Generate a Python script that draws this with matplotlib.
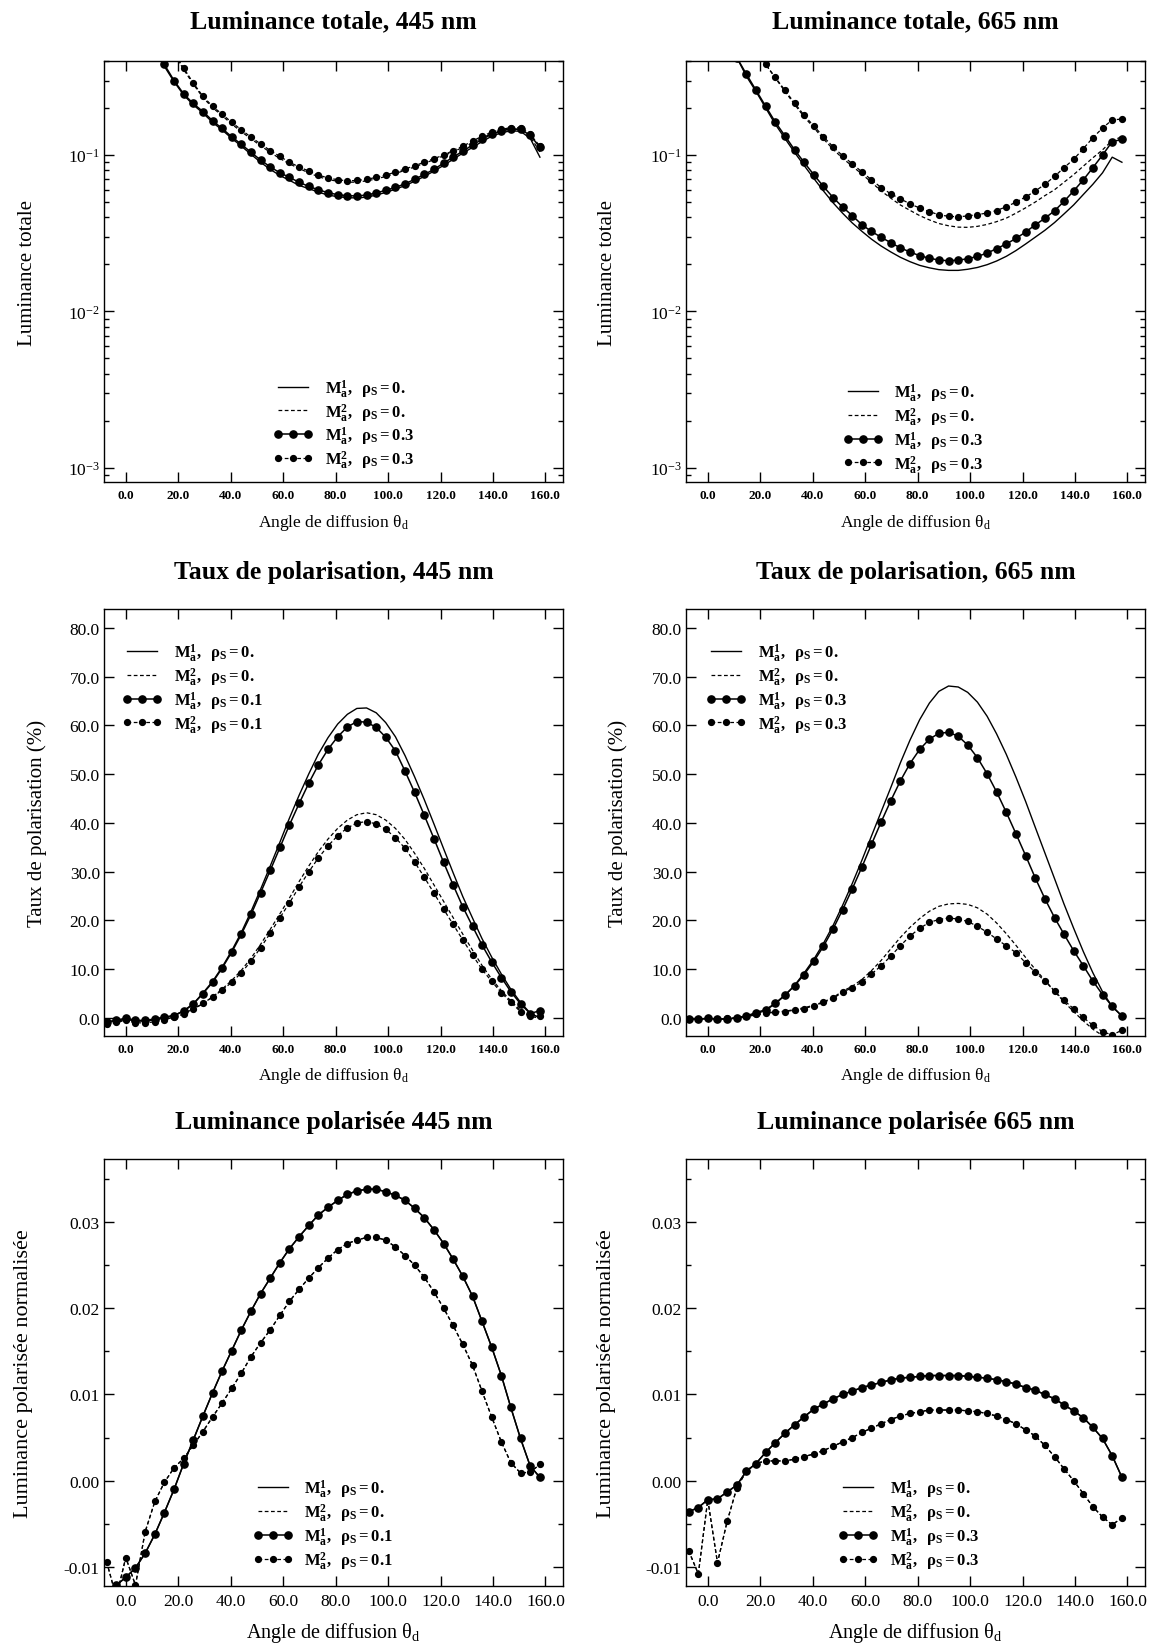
import matplotlib
matplotlib.use("Agg")
import matplotlib.pyplot as plt
from matplotlib.ticker import FormatStrFormatter, LogLocator, MultipleLocator, NullFormatter

plt.rcParams["font.family"] = ["Liberation Serif", "DejaVu Serif"]
plt.rcParams["mathtext.fontset"] = "custom"
plt.rcParams["mathtext.rm"] = "Liberation Serif"
plt.rcParams["mathtext.it"] = "Liberation Serif:italic"
plt.rcParams["mathtext.bf"] = "Liberation Serif:bold"
plt.rcParams["axes.unicode_minus"] = False

# Scattering angles (deg) shared by every curve
angle = [-7.3, -3.6, 0.0, 3.7, 7.4, 11.1, 14.7, 18.4, 22.1, 25.7, 29.4, 33.1, 36.7, 40.4,
         44.1, 47.8, 51.4, 55.1, 58.8, 62.4, 66.1, 69.8, 73.4, 77.1, 80.8, 84.5, 88.1, 91.8,
         95.5, 99.1, 102.8, 106.5, 110.1, 113.8, 117.5, 121.2, 124.8, 128.5, 132.2, 135.8,
         139.5, 143.2, 146.8, 150.5, 154.2, 157.9]

# Luminance totale, 445 nm
lum445_m1_r0 = [2.1, 1.5, 1.07, 0.80, 0.60, 0.46, 0.37, 0.295, 0.242, 0.210, 0.186, 0.162, 0.145, 0.128,
                0.114, 0.101, 0.090, 0.081, 0.074, 0.069, 0.064, 0.061, 0.058, 0.0555, 0.0542, 0.0534,
                0.0532, 0.0538, 0.0555, 0.0577, 0.0605, 0.0638, 0.068, 0.073, 0.079, 0.086, 0.094, 0.103,
                0.112, 0.122, 0.132, 0.139, 0.143, 0.142, 0.128, 0.097]
lum445_m2_r0 = [3.9, 2.75, 1.95, 1.42, 1.03, 0.76, 0.57, 0.44, 0.353, 0.285, 0.234, 0.201, 0.179, 0.158,
                0.141, 0.127, 0.115, 0.104, 0.095, 0.088, 0.082, 0.077, 0.0728, 0.0698, 0.0680, 0.0670,
                0.0672, 0.0684, 0.0704, 0.0730, 0.0762, 0.080, 0.084, 0.0885, 0.0935, 0.099, 0.105, 0.112,
                0.120, 0.129, 0.137, 0.143, 0.147, 0.146, 0.131, 0.105]
lum445_m1_r3 = [2.2, 1.55, 1.1, 0.82, 0.62, 0.47, 0.38, 0.30, 0.246, 0.214, 0.19, 0.166, 0.148, 0.131,
                0.117, 0.104, 0.093, 0.084, 0.077, 0.072, 0.067, 0.063, 0.060, 0.0575, 0.0558, 0.0550,
                0.0548, 0.0555, 0.0573, 0.0595, 0.0622, 0.0655, 0.070, 0.0752, 0.081, 0.089, 0.097, 0.106,
                0.116, 0.126, 0.136, 0.143, 0.147, 0.146, 0.134, 0.112]
lum445_m2_r3 = [4.0, 2.8, 2.0, 1.45, 1.05, 0.78, 0.58, 0.45, 0.36, 0.29, 0.238, 0.205, 0.183, 0.162,
                0.145, 0.130, 0.118, 0.107, 0.098, 0.090, 0.084, 0.079, 0.0745, 0.0715, 0.0695, 0.0685,
                0.0688, 0.0700, 0.0720, 0.0745, 0.0778, 0.0815, 0.0855, 0.090, 0.095, 0.100, 0.107, 0.114,
                0.123, 0.132, 0.140, 0.146, 0.150, 0.150, 0.136, 0.114]

# Luminance totale, 665 nm
lum665_m1_r0 = [2.5, 1.6, 1.05, 0.72, 0.54, 0.42, 0.32, 0.255, 0.200, 0.158, 0.128, 0.104, 0.086, 0.071,
                0.059, 0.0495, 0.0425, 0.0368, 0.0325, 0.0290, 0.0262, 0.0240, 0.0222, 0.0208, 0.0197,
                0.0190, 0.0185, 0.0183, 0.0183, 0.0186, 0.0191, 0.0199, 0.0210, 0.0225, 0.0245, 0.0270,
                0.0298, 0.0330, 0.0370, 0.042, 0.048, 0.056, 0.065, 0.077, 0.097, 0.090]
lum665_m2_r0 = [6.0, 3.8, 2.5, 1.7, 1.2, 0.85, 0.62, 0.48, 0.38, 0.312, 0.256, 0.211, 0.176, 0.150,
                0.127, 0.109, 0.0955, 0.085, 0.0755, 0.067, 0.059, 0.053, 0.048, 0.0443, 0.041, 0.0385,
                0.0365, 0.0353, 0.0346, 0.0345, 0.0350, 0.0360, 0.0375, 0.0395, 0.0425, 0.046, 0.050,
                0.055, 0.060, 0.067, 0.075, 0.085, 0.096, 0.108, 0.124, 0.131]
lum665_m1_r3 = [2.5, 1.6, 1.05, 0.72, 0.54, 0.42, 0.33, 0.26, 0.205, 0.163, 0.133, 0.108, 0.090, 0.075,
                0.063, 0.0535, 0.0465, 0.041, 0.0358, 0.0325, 0.0298, 0.0275, 0.0255, 0.0240, 0.0227,
                0.0219, 0.0213, 0.0211, 0.0213, 0.0217, 0.0225, 0.0236, 0.0252, 0.0270, 0.0293, 0.0322,
                0.0357, 0.0394, 0.0440, 0.0505, 0.0590, 0.0695, 0.083, 0.100, 0.122, 0.126]
lum665_m2_r3 = [6.0, 3.8, 2.5, 1.7, 1.2, 0.85, 0.62, 0.48, 0.38, 0.315, 0.26, 0.215, 0.18, 0.154,
                0.131, 0.113, 0.099, 0.088, 0.078, 0.0695, 0.062, 0.0565, 0.0525, 0.0488, 0.0458, 0.0435,
                0.0415, 0.0406, 0.0403, 0.0408, 0.0416, 0.0426, 0.0442, 0.0467, 0.050, 0.054, 0.0588,
                0.065, 0.073, 0.083, 0.094, 0.110, 0.129, 0.149, 0.168, 0.170]

# Taux de polarisation (%), 445 nm
pol445_m1_r0 = [-0.8, -0.6, -0.3, -0.6, -0.6, -0.4, 0.0, 0.5, 1.5, 2.9, 5.1, 7.5, 10.4, 13.8, 17.6, 21.9,
                26.4, 31.2, 36.1, 41.0, 45.7, 50.1, 54.1, 57.5, 60.3, 62.3, 63.5, 63.6, 62.6, 60.6, 57.7,
                53.8, 49.5, 44.8, 39.8, 34.7, 29.8, 24.9, 20.5, 16.3, 12.5, 9.0, 5.9, 3.2, 1.0, 0.0]
pol445_m2_r0 = [-0.8, -0.6, -0.3, -0.6, -0.6, -0.4, 0.0, 0.5, 1.0, 1.8, 2.9, 4.3, 5.9, 7.7, 9.8, 12.3,
                15.1, 18.2, 21.4, 24.6, 28.0, 31.2, 34.1, 36.7, 38.9, 40.6, 41.7, 42.1, 41.7, 40.6, 38.9,
                36.6, 33.8, 30.7, 27.3, 23.9, 20.6, 17.2, 13.9, 10.8, 8.0, 5.6, 3.5, 1.6, 0.3, 0.0]
pol445_m1_r1 = [-0.8, -0.5, 0.0, -0.5, -0.5, -0.2, 0.2, 0.5, 1.4, 2.8, 5.0, 7.3, 10.2, 13.5, 17.2, 21.3,
                25.7, 30.3, 35.0, 39.6, 44.0, 48.2, 51.9, 55.1, 57.7, 59.7, 60.8, 60.7, 59.6, 57.6, 54.8,
                50.6, 46.3, 41.6, 36.8, 31.9, 27.3, 22.8, 18.8, 15.0, 11.5, 8.3, 5.4, 2.9, 0.9, 1.5]
pol445_m2_r1 = [-1.3, -0.9, -0.5, -1.0, -1.0, -0.8, -0.4, 0.2, 0.8, 1.8, 3.0, 4.3, 5.7, 7.3, 9.3, 11.7,
                14.4, 17.4, 20.6, 23.6, 26.9, 30.0, 32.8, 35.3, 37.4, 39.0, 40.0, 40.3, 39.8, 38.7, 37.0,
                34.8, 32.0, 28.9, 25.6, 22.3, 19.2, 16.0, 12.9, 10.0, 7.5, 5.2, 3.2, 1.3, 0.5, 0.4]

# Taux de polarisation (%), 665 nm
pol665_m1_r0 = [-0.3, -0.2, -0.1, -0.2, -0.2, 0.0, 0.3, 0.8, 1.6, 2.9, 4.6, 6.7, 9.2, 12.0, 15.3, 19.0,
                23.1, 27.6, 32.4, 37.3, 42.3, 47.3, 52.3, 57.0, 61.2, 64.6, 67.0, 68.1, 67.9, 66.8, 64.8,
                61.9, 58.3, 54.1, 49.4, 44.4, 39.2, 33.9, 28.6, 23.4, 18.4, 13.6, 9.3, 5.4, 2.3, 0.4]
pol665_m2_r0 = [-0.3, -0.2, -0.1, -0.2, -0.1, 0.0, 0.3, 0.6, 0.9, 1.2, 1.4, 1.7, 2.1, 2.6, 3.3, 4.2, 5.5,
                6.5, 7.9, 9.7, 11.8, 14.2, 16.5, 18.6, 20.4, 21.9, 22.9, 23.4, 23.5, 23.3, 22.6, 21.3,
                19.5, 17.3, 14.9, 12.4, 10.0, 7.8, 5.5, 3.3, 1.3, -0.6, -2.3, -3.6, -4.4, -4.7]
pol665_m1_r3 = [-0.3, -0.2, -0.1, -0.2, -0.2, 0.0, 0.4, 1.1, 1.7, 3.0, 4.7, 6.6, 8.9, 11.6, 14.7, 18.3,
                22.2, 26.5, 31.0, 35.6, 40.2, 44.6, 48.6, 52.2, 55.1, 57.2, 58.4, 58.6, 57.8, 56.0, 53.4,
                50.1, 46.4, 42.2, 37.8, 33.3, 28.8, 24.5, 20.6, 17.2, 13.8, 10.7, 7.6, 4.8, 2.4, 0.4]
pol665_m2_r3 = [-0.3, -0.2, -0.1, -0.2, -0.1, 0.0, 0.5, 0.9, 1.1, 1.2, 1.3, 1.6, 1.9, 2.5, 3.2, 4.0, 5.3,
                6.2, 7.4, 9.0, 10.7, 12.7, 14.8, 16.8, 18.4, 19.6, 20.2, 20.5, 20.3, 19.8, 18.8, 17.6,
                16.2, 14.8, 13.4, 11.3, 9.4, 7.6, 5.5, 3.6, 1.9, 0.1, -1.5, -2.8, -3.5, -2.5]

# Luminance polarisee normalisee, 445 nm (rho_S = 0 and 0.1 coincide)
lp445_m1 = [-0.0130, -0.0121, -0.0112, -0.0101, -0.0084, -0.0062, -0.0037, -0.0010, 0.0020, 0.0047,
            0.0075, 0.0102, 0.0127, 0.0151, 0.0175, 0.0197, 0.0217, 0.0235, 0.0253, 0.0269, 0.0283,
            0.0296, 0.0308, 0.0317, 0.0325, 0.0332, 0.0336, 0.0338, 0.0338, 0.0335, 0.0331, 0.0325,
            0.0316, 0.0305, 0.0291, 0.0275, 0.0257, 0.0237, 0.0214, 0.0185, 0.0155, 0.0122, 0.0085,
            0.0049, 0.0017, 0.0004]
lp445_m2 = [-0.0094, -0.0135, -0.0089, -0.0121, -0.0059, -0.0024, -0.0002, 0.0015, 0.0026, 0.0041,
            0.0057, 0.0074, 0.0090, 0.0107, 0.0125, 0.0144, 0.0160, 0.0175, 0.0192, 0.0208, 0.0222,
            0.0235, 0.0247, 0.0258, 0.0268, 0.0275, 0.0279, 0.0282, 0.0282, 0.0279, 0.0271, 0.0261,
            0.0250, 0.0236, 0.0219, 0.0200, 0.0180, 0.0158, 0.0134, 0.0104, 0.0074, 0.0045, 0.0021,
            0.0009, 0.0010, 0.0019]

# Luminance polarisee normalisee, 665 nm (rho_S = 0 and 0.3 coincide)
lp665_m1 = [-0.0036, -0.0031, -0.0022, -0.0021, -0.0013, -0.0005, 0.0011, 0.0020, 0.0033, 0.0044,
            0.0055, 0.0065, 0.0074, 0.0083, 0.0089, 0.0095, 0.0100, 0.0104, 0.0108, 0.0111, 0.0114,
            0.0117, 0.0119, 0.0120, 0.0121, 0.0122, 0.0122, 0.0122, 0.0122, 0.0121, 0.0120, 0.0119,
            0.0117, 0.0115, 0.0112, 0.0108, 0.0105, 0.0100, 0.0095, 0.0088, 0.0081, 0.0073, 0.0062,
            0.0049, 0.0029, 0.0004]
lp665_m2 = [-0.0081, -0.0108, -0.0022, -0.0095, -0.0047, -0.0008, 0.0011, 0.0020, 0.0023, 0.0023,
            0.0023, 0.0025, 0.0028, 0.0031, 0.0035, 0.0040, 0.0045, 0.0050, 0.0056, 0.0061, 0.0066,
            0.0071, 0.0075, 0.0078, 0.0080, 0.0082, 0.0082, 0.0082, 0.0082, 0.0081, 0.0080, 0.0078,
            0.0075, 0.0071, 0.0066, 0.0059, 0.0052, 0.0041, 0.0028, 0.0014, 0.0000, -0.0015, -0.0030,
            -0.0042, -0.0051, -0.0043]

W, H = 1154, 1649
fig = plt.figure(figsize=(W / 100, H / 100), dpi=100)

col_left = [104, 686]
col_width = 459
rows = [(62, 483), (610, 1037), (1160, 1587)]  # top, bottom in pixels


def make_axes(row, col):
    top, bottom = rows[row]
    return fig.add_axes([col_left[col] / W, 1 - bottom / H, col_width / W, (bottom - top) / H])


def legend_label(m, rho):
    return r"$\mathbf{M_a^%d,\ \ \rho_S = %s}$" % (m, rho)


def draw(ax, m1_r0, m2_r0, m1_rs, m2_rs, rho, leg_xy):
    ax.plot(angle, m1_r0, "-", color="black", lw=1.0, label=legend_label(1, "0."))
    ax.plot(angle, m2_r0, "--", color="black", lw=0.9, dashes=(3, 2), label=legend_label(2, "0."))
    ax.plot(angle, m1_rs, "-", color="black", lw=1.1, marker="o", ms=5.2, mfc="black",
            mec="black", label=legend_label(1, rho))
    ax.plot(angle, m2_rs, "--", color="black", lw=0.9, dashes=(3, 2), marker="o", ms=4.2,
            mfc="black", mec="black", label=legend_label(2, rho))
    ax.legend(loc="upper left", bbox_to_anchor=leg_xy, frameon=False, fontsize=12,
              borderpad=0, borderaxespad=0, handlelength=2.4, handletextpad=0.7,
              labelspacing=0.12, numpoints=3)


def style(ax, tick_size, ytick_size, xbold):
    ax.set_xlim(-8.3, 166.7)
    ax.xaxis.set_major_locator(MultipleLocator(20))
    ax.xaxis.set_major_formatter(FormatStrFormatter("%.1f"))
    ax.tick_params(which="both", direction="in", top=True, right=True, width=1.0)
    ax.tick_params(which="major", length=7, pad=5)
    ax.tick_params(which="minor", length=3.5)
    ax.tick_params(axis="x", labelsize=tick_size)
    ax.tick_params(axis="y", labelsize=ytick_size, pad=3)
    if xbold:
        for lab in ax.get_xticklabels():
            lab.set_fontweight("bold")
    for s in ax.spines.values():
        s.set_linewidth(1.0)


titles = [
    ["Luminance totale, 445 nm", "Luminance totale, 665 nm"],
    ["Taux de polarisation, 445 nm", "Taux de polarisation, 665 nm"],
    ["Luminance polarisée 445 nm", "Luminance polarisée 665 nm"],
]
ylabels = ["Luminance totale", "Taux de polarisation (%)", "Luminance polarisée normalisée"]
xlabel = r"Angle de diffusion $\mathrm{\theta_d}$"

panels = [
    [(lum445_m1_r0, lum445_m2_r0, lum445_m1_r3, lum445_m2_r3, "0.3", (0.368, 0.25)),
     (lum665_m1_r0, lum665_m2_r0, lum665_m1_r3, lum665_m2_r3, "0.3", (0.341, 0.24))],
    [(pol445_m1_r0, pol445_m2_r0, pol445_m1_r1, pol445_m2_r1, "0.1", (0.039, 0.925)),
     (pol665_m1_r0, pol665_m2_r0, pol665_m1_r3, pol665_m2_r3, "0.3", (0.044, 0.925))],
    [(lp445_m1, lp445_m2, lp445_m1, lp445_m2, "0.1", (0.324, 0.255)),
     (lp665_m1, lp665_m2, lp665_m1, lp665_m2, "0.3", (0.332, 0.255))],
]

title_off = [40, 38, 37]
xlabel_off = [40, 39, 46]
ylabel_off = [[76, 78], [67, 68], [80, 80]]
xlabel_size = [12.5, 12.5, 14.5]
ylabel_size = [15, 15, 16]

for r in range(3):
    top, bottom = rows[r]
    h = bottom - top
    for c in range(2):
        ax = make_axes(r, c)
        m1_r0, m2_r0, m1_rs, m2_rs, rho, leg_xy = panels[r][c]
        draw(ax, m1_r0, m2_r0, m1_rs, m2_rs, rho, leg_xy)

        if r == 0:
            ax.set_yscale("log")
            ax.set_ylim(8.1e-4, 0.4)
            ax.yaxis.set_major_locator(LogLocator(base=10, numticks=10))
            ax.yaxis.set_minor_locator(LogLocator(base=10, subs=range(2, 10), numticks=20))
            ax.yaxis.set_minor_formatter(NullFormatter())
            style(ax, 9.5, 12.5, True)
        elif r == 1:
            ax.set_ylim(-3.7, 83.9)
            ax.yaxis.set_major_locator(MultipleLocator(10))
            ax.yaxis.set_major_formatter(FormatStrFormatter("%.1f"))
            style(ax, 9.5, 12.5, True)
        else:
            ax.set_ylim(-0.0122, 0.0373)
            ax.yaxis.set_major_locator(MultipleLocator(0.01))
            ax.yaxis.set_minor_locator(MultipleLocator(0.005))
            ax.yaxis.set_major_formatter(FormatStrFormatter("%.2f"))
            style(ax, 12.5, 12.5, False)

        ax.text(0.5, 1 + title_off[r] / h, titles[r][c], transform=ax.transAxes,
                ha="center", va="center", fontsize=18.5, fontweight="bold")
        ax.text(0.5, -xlabel_off[r] / h, xlabel, transform=ax.transAxes,
                ha="center", va="center", fontsize=xlabel_size[r])
        ax.text(-ylabel_off[r][c] / col_width, 0.5, ylabels[r], transform=ax.transAxes,
                ha="center", va="center", rotation=90, fontsize=ylabel_size[r])

fig.savefig("out.png", dpi=100)
